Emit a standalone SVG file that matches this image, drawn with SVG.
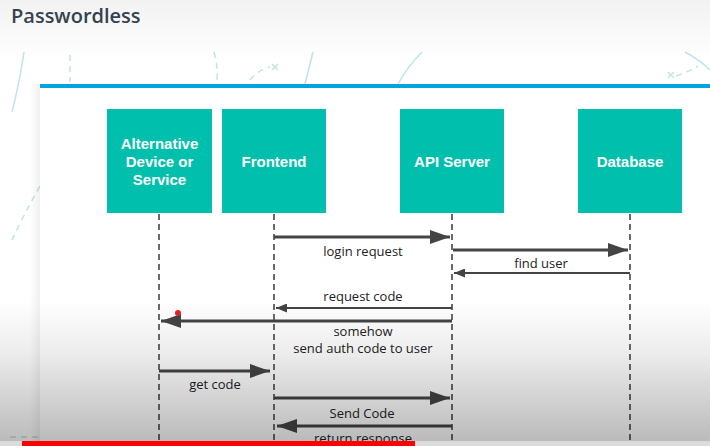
<svg xmlns="http://www.w3.org/2000/svg" width="710" height="446" viewBox="0 0 710 446">
<defs>
<style>
.box{fill:#00bfad;}
.bt{font-family:"Liberation Sans",Arial,sans-serif;font-weight:bold;font-size:15px;fill:#ffffff;text-anchor:middle;}
.life{stroke:#3a3a3a;stroke-width:1.5;stroke-dasharray:6 4;fill:none;}
.thick{stroke:#444;stroke-width:3;fill:none;marker-end:url(#hb);}
.thin{stroke:#444;stroke-width:2;fill:none;marker-end:url(#hs);}
.lbl{font-family:"Open Sans","Noto Sans",sans-serif;font-size:13px;fill:#222;text-anchor:middle;}
.deco{stroke:#bfe4e8;stroke-width:1.5;fill:none;}
.decod{stroke:#bfe4e8;stroke-width:1.5;fill:none;stroke-dasharray:6 5;}
</style>
<marker id="hb" markerUnits="userSpaceOnUse" markerWidth="20" markerHeight="14" refX="20" refY="7" orient="auto"><path d="M0,0 L20,7 L0,14 z" fill="#444"/></marker>
<marker id="hs" markerUnits="userSpaceOnUse" markerWidth="11" markerHeight="9" refX="11" refY="4.5" orient="auto"><path d="M0,0 L11,4.5 L0,9 z" fill="#444"/></marker>
<linearGradient id="topbg" x1="0" y1="0" x2="0" y2="1"><stop offset="0" stop-color="#f2f2f2"/><stop offset="1" stop-color="#ffffff"/></linearGradient>
<linearGradient id="shade" x1="0" y1="0" x2="0" y2="1"><stop offset="0" stop-color="#000" stop-opacity="0"/><stop offset="0.35" stop-color="#000" stop-opacity="0.07"/><stop offset="1" stop-color="#000" stop-opacity="0.28"/></linearGradient>
<linearGradient id="side" x1="0" y1="0" x2="1" y2="0"><stop offset="0" stop-color="#000" stop-opacity="0"/><stop offset="1" stop-color="#000" stop-opacity="0.06"/></linearGradient>
</defs>

<rect x="0" y="0" width="710" height="446" fill="#ffffff"/>
<rect x="0" y="0" width="710" height="60" fill="url(#topbg)"/>

<g id="decoration">
<path class="deco" d="M24,52 Q20,80 12,112"/>
<path class="decod" d="M70,55 L70,82"/>
<path class="decod" d="M214,52 Q218,66 217,82"/>
<path class="decod" d="M250,80 Q258,70 270,67"/>
<path class="deco" d="M272,64 L278,70 M278,64 L272,70"/>
<path class="deco" d="M313,52 L305,84"/>
<path class="deco" d="M422,52 Q408,66 398,84"/>
<path class="decod" d="M676,76 Q688,72 698,66"/>
<path class="deco" d="M668,72 L674,78 M674,72 L668,78"/>
<path class="deco" d="M685,52 Q700,60 710,70"/>
<path class="decod" d="M40,186 Q24,214 12,240"/>
<path class="decod" d="M10,437 L38,437"/>
</g>

<rect x="30" y="84" width="10" height="362" fill="url(#side)"/>
<rect x="40" y="84" width="670" height="362" fill="#ffffff"/>
<rect x="40" y="84" width="670" height="4" fill="#04a4dc"/>

<text x="11" y="23" font-family="'Open Sans','Noto Sans',sans-serif" font-size="20" font-weight="600" fill="#34434f">Passwordless</text>

<g id="node-alt">
<rect class="box" x="107" y="109" width="105" height="104"/>
<text class="bt" x="159.5" y="149">Alternative</text>
<text class="bt" x="159.5" y="167">Device or</text>
<text class="bt" x="159.5" y="185">Service</text>
</g>
<g id="node-frontend">
<rect class="box" x="222" y="109" width="104" height="104"/>
<text class="bt" x="274" y="167">Frontend</text>
</g>
<g id="node-api">
<rect class="box" x="400" y="109" width="104" height="104"/>
<text class="bt" x="452" y="167">API Server</text>
</g>
<g id="node-db">
<rect class="box" x="578" y="109" width="104" height="104"/>
<text class="bt" x="630" y="167">Database</text>
</g>

<g id="connectors">
<line class="life" x1="159" y1="214" x2="159" y2="446"/>
<line class="life" x1="274" y1="214" x2="274" y2="446"/>
<line class="life" x1="452" y1="214" x2="452" y2="446"/>
<line class="life" x1="630" y1="214" x2="630" y2="446"/>

<line class="thick" x1="274" y1="237" x2="450" y2="237"/>
<line class="thick" x1="453" y1="250" x2="628" y2="250"/>
<line class="thin" x1="630" y1="273" x2="454" y2="273"/>
<line class="thin" x1="452" y1="308" x2="276" y2="308"/>
<line class="thick" x1="452" y1="321" x2="161" y2="321"/>
<line class="thick" x1="159" y1="371" x2="270" y2="371"/>
<line class="thick" x1="274" y1="398" x2="450" y2="398"/>
<line class="thick" x1="452" y1="426" x2="277" y2="426"/>

<text class="lbl" x="363" y="256">login request</text>
<text class="lbl" x="541" y="268">find user</text>
<text class="lbl" x="363" y="301">request code</text>
<text class="lbl" x="363" y="336">somehow</text>
<text class="lbl" x="363" y="353">send auth code to user</text>
<text class="lbl" x="215" y="389">get code</text>
<text class="lbl" x="362" y="418">Send Code</text>
<text class="lbl" x="363" y="443">return response</text>
</g>

<rect x="0" y="300" width="710" height="146" fill="url(#shade)"/>
<circle cx="178" cy="313" r="3" fill="#e0202a"/>
<rect x="0" y="441" width="710" height="5" fill="#dcdcdc"/>
<rect x="22" y="441" width="393" height="5" fill="#ff0000"/>
</svg>
